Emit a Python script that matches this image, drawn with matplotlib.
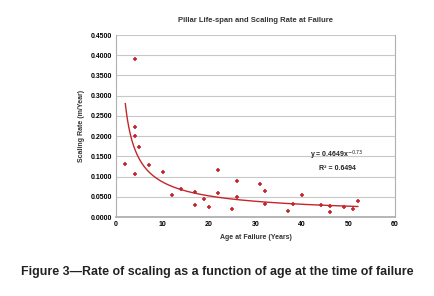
import numpy as np
from matplotlib import pyplot as plt

# ages (years) and scaling rates (m/year)
age = [2, 4, 4, 4, 4, 5, 7, 10, 12, 14, 17, 17, 19, 20, 22, 22, 25, 26, 26,
       31, 32, 32, 37, 38, 40, 44, 46, 46, 49, 51, 52]
rate = [0.132, 0.391, 0.222, 0.200, 0.106, 0.174, 0.129, 0.111, 0.054, 0.069,
        0.063, 0.029, 0.045, 0.025, 0.115, 0.059, 0.019, 0.090, 0.050,
        0.082, 0.065, 0.031, 0.016, 0.032, 0.054, 0.029, 0.028, 0.013,
        0.024, 0.019, 0.039]
coef_a = 0.4649
coef_b = -0.73
r2 = 0.6494

red = "#c3262b"
plt.rcParams['font.family'] = ['Liberation Sans', 'DejaVu Sans']

fig = plt.figure(figsize=(4.34, 2.96), dpi=100)
ax = fig.add_axes([116 / 434, 1 - 217 / 296, 279 / 434, 182 / 296])

xs = np.linspace(min(age), max(age), 200)
ax.plot(xs, coef_a * xs ** coef_b, color=red, lw=1.0, zorder=2)
ax.scatter(age, rate, marker='+', s=9, color=red, linewidths=1.2, zorder=3)

ax.set_xlim(0, 60)
ax.set_ylim(0, 0.45)
ax.set_xticks(range(0, 61, 10))
ax.set_yticks(np.arange(0, 0.451, 0.05))
ax.set_yticklabels([f"{v:.4f}" for v in np.arange(0, 0.451, 0.05)])
ax.tick_params(labelsize=5, length=0, pad=3)
for lab in ax.get_xticklabels() + ax.get_yticklabels():
    lab.set_fontweight('bold')
ax.grid(axis='y', color='#c8c8c8', lw=0.8)
ax.set_axisbelow(True)
for side in ['left', 'right', 'bottom']:
    ax.spines[side].set_color('#b0b0b0')
ax.spines['bottom'].set_linewidth(1.3)
ax.spines['top'].set_visible(False)

ax.set_title("Pillar Life-span and Scaling Rate at Failure", fontsize=5.5,
             fontweight='bold', pad=9, color='#333333')
ax.set_xlabel("Age at Failure (Years)", fontsize=5, fontweight='bold',
              labelpad=4, color='#333333')
ax.set_ylabel("Scaling Rate (m/Year)", fontsize=5, fontweight='bold',
              labelpad=4, color='#333333')
ax.text(47.5, 0.141, f"y = {coef_a}x$^{{{coef_b}}}$\nR² = {r2}", fontsize=5,
        fontweight='bold', ha='center', va='center', linespacing=1.6,
        color='#222222')

fig.text(0.5, 1 - 272 / 296,
         "Figure 3\u2014Rate of scaling as a function of age at the time of failure",
         ha='center', va='center', fontsize=8.9, fontweight='bold',
         color='#222222')

fig.savefig("out.png", dpi=100)
